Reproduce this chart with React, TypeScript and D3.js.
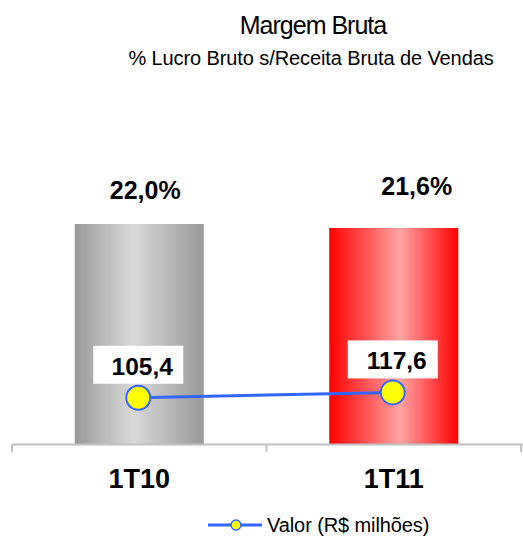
import React from "react";
import * as d3 from "d3";

const categories = ["1T10", "1T11"];
const margin = [22.0, 21.6];
const marginLabels = ["22,0%", "21,6%"];
const valor = [105.4, 117.6];
const valorLabels = ["105,4", "117,6"];
const legendLabel = "Valor (R$ milhões)";
const title = "Margem Bruta";
const subtitle = "% Lucro Bruto s/Receita Bruta de Vendas";

// label nudges (layout, not data)
const pctDx = [6, 23];
const pctDy = [-25, -33];

const W = 523;
const H = 537;

export default function App() {
  const x = d3.scaleBand<string>().domain(categories).range([12, 521]).paddingInner(0).paddingOuter(0);
  const y = d3.scaleLinear().domain([0, 25]).range([444, 194]);
  const y2 = d3.scaleLinear().domain([0, 570]).range([444, 194]);
  const barW = x.bandwidth() * 0.507;
  const cx = (c: string) => (x(c) as number) + x.bandwidth() / 2;
  const line = d3
    .line<number>()
    .x((_, i) => cx(categories[i]) - 1)
    .y((d) => y2(d));
  const font = "Arial, 'Liberation Sans', sans-serif";
  const ticks = [...categories.map((c) => x(c) as number), 521];

  return (
    <svg width={W} height={H} style={{ position: "absolute", left: 0, top: 0 }} fontFamily={font}>
      <defs>
        <linearGradient id="g0" x1="0" x2="1" y1="0" y2="0">
          <stop offset="0" stopColor="#999999" />
          <stop offset="0.45" stopColor="#d9d9d9" />
          <stop offset="1" stopColor="#999999" />
        </linearGradient>
        <linearGradient id="g1" x1="0" x2="1" y1="0" y2="0">
          <stop offset="0" stopColor="#ff0000" />
          <stop offset="0.55" stopColor="#ffa3a3" />
          <stop offset="1" stopColor="#ff0000" />
        </linearGradient>
      </defs>
      <rect width={W} height={H} fill="#fff" />
      <text x={313} y={34} textAnchor="middle" fontSize={25} letterSpacing={-1}>
        {title}
      </text>
      <text x={311} y={65} textAnchor="middle" fontSize={20} letterSpacing={-0.1}>
        {subtitle}
      </text>
      {categories.map((c, i) => (
        <rect
          key={c}
          x={cx(c) - barW / 2}
          y={y(margin[i])}
          width={barW}
          height={y(0) - y(margin[i])}
          fill={`url(#g${i})`}
        />
      ))}
      <line x1={12} x2={W} y1={444.5} y2={444.5} stroke="#c0c0c0" strokeWidth={2} />
      {ticks.map((t, i) => (
        <line key={i} x1={t} x2={t} y1={444.5} y2={452} stroke="#c0c0c0" strokeWidth={2} />
      ))}
      {categories.map((c, i) => (
        <text
          key={c}
          x={cx(c) + pctDx[i]}
          y={y(margin[i]) + pctDy[i]}
          textAnchor="middle"
          fontSize={25}
          fontWeight="bold"
        >
          {marginLabels[i]}
        </text>
      ))}
      {categories.map((c) => (
        <text key={c} x={cx(c)} y={488} textAnchor="middle" fontSize={27} fontWeight="bold">
          {c}
        </text>
      ))}
      <path d={line(valor) || ""} fill="none" stroke="#3366ff" strokeWidth={3} />
      {valor.map((v, i) => {
        const px = cx(categories[i]) - 1;
        const py = y2(v);
        return (
          <g key={i}>
            <rect x={px - 45} y={py - 52} width={90} height={38} fill="#fff" />
            <text x={px + 4} y={py - 23} textAnchor="middle" fontSize={24.5} fontWeight="bold">
              {valorLabels[i]}
            </text>
            <circle cx={px} cy={py} r={12} fill="#ffff00" stroke="#3366ff" strokeWidth={2} />
          </g>
        );
      })}
      <g>
        <line x1={208} x2={262} y1={525} y2={525} stroke="#3366ff" strokeWidth={3} />
        <circle cx={236} cy={525} r={5} fill="#ffff00" stroke="#3366ff" strokeWidth={1.5} />
        <text x={267} y={532} fontSize={20} letterSpacing={-0.1}>
          {legendLabel}
        </text>
      </g>
    </svg>
  );
}
